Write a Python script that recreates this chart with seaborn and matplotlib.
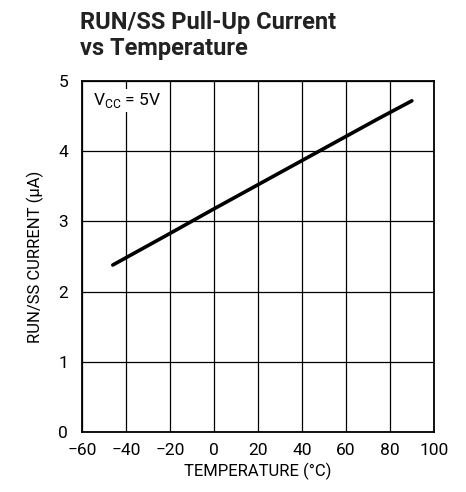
import matplotlib
matplotlib.use('Agg')
import matplotlib.pyplot as plt
import seaborn as sns
import pandas as pd

# ---------- data ----------
temperature = [-46, -20, 0, 25, 50, 75, 90]
current_ua = [2.38, 2.83, 3.18, 3.61, 4.04, 4.47, 4.72]
x_ticks = [-60, -40, -20, 0, 20, 40, 60, 80, 100]
x_tick_labels = ['\u221260', '\u221240', '\u221220', '0', '20', '40', '60', '80', '100']
y_ticks = [0, 1, 2, 3, 4, 5]

df = pd.DataFrame({'temp': temperature, 'cur': current_ua})

sns.set_theme(style='white')
plt.rcParams['font.family'] = ['Roboto', 'DejaVu Sans']

fig = plt.figure(figsize=(4.66, 4.92), dpi=100)
ax = fig.add_axes([0.176, 0.122, 0.755, 0.713])

sns.lineplot(data=df, x='temp', y='cur', color='black', linewidth=2.6, ax=ax)

ax.set_xlim(-60, 100)
ax.set_ylim(0, 5)
ax.set_xticks(x_ticks)
ax.set_xticklabels(x_tick_labels)
ax.set_yticks(y_ticks)
ax.tick_params(axis='both', length=0, labelsize=12.5, colors='black')
ax.tick_params(axis='x', pad=8)
ax.tick_params(axis='y', pad=10)
ax.grid(True, color='black', linewidth=0.9)
ax.set_axisbelow(True)
for s in ax.spines.values():
    s.set_color('black')
    s.set_linewidth(1.3)

ax.set_xlabel('TEMPERATURE (\u00b0C)', fontsize=12, color='black', labelpad=3)
ax.set_ylabel('RUN/SS CURRENT (\u03bcA)', fontsize=12, color='black', labelpad=10)

ax.text(-55, 4.72, 'V$_{\\mathregular{CC}}$ = 5V', fontsize=12.5, color='black',
        ha='left', va='center',
        bbox=dict(facecolor='white', edgecolor='none', pad=1.5))

fig.text(0.172, 0.977, 'RUN/SS Pull-Up Current\nvs Temperature', fontsize=17,
         fontweight='bold', color='#222222', ha='left', va='top', linespacing=1.15)

fig.savefig('out.png', dpi=100, facecolor='white')
